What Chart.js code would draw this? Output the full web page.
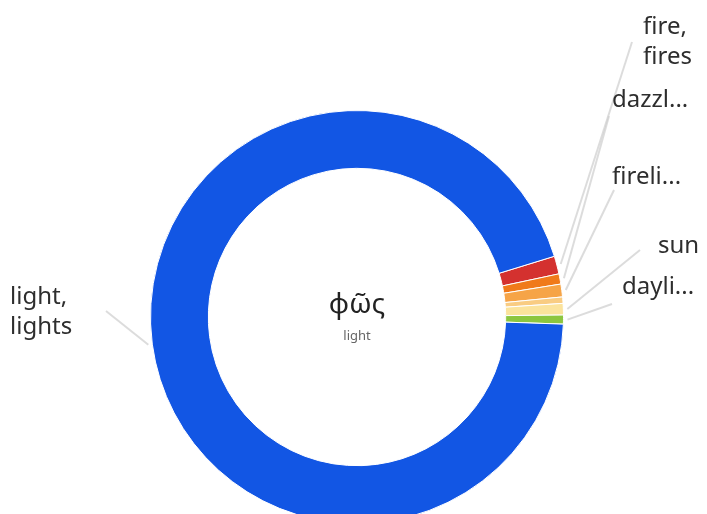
<!DOCTYPE html>
<html>
<head>
<meta charset="utf-8">
<script src="https://cdn.jsdelivr.net/npm/chart.js@4"></script>
<style>
  html, body { margin: 0; padding: 0; background: #fff; overflow: hidden; }
  #wrap { width: 707px; height: 524px; }
</style>
</head>
<body>
<div id="wrap"><canvas id="word_chart"></canvas></div>
<script>
// segments in clockwise order, starting at the red one
const words = ["fire, fires", "dazzl...", "fireli...", "", "sun", "dayli...", "light, lights"];
const counts = [14, 8, 10, 5, 9, 7, 947];
const colors = ["#d4312f", "#f07a1a", "#f6a447", "#f9cc82", "#fbe39c", "#8cc63f", "#1256e4"];

// where each word label sits (left x, first line centre y) and where its leader line ends
const label_pos = [
  { x: 643, y: 27, lx: 632, ly: 42 },
  { x: 612, y: 100, lx: 609, ly: 116 },
  { x: 612, y: 177, lx: 614, ly: 190 },
  null,
  { x: 658, y: 246, lx: 640, ly: 250 },
  { x: 622, y: 287, lx: 612, ly: 304 },
  { x: 10, y: 297, lx: 106, ly: 311 },
];

const title = "φῶς";
const subtitle = "light";

const labelsPlugin = {
  id: "word_labels",
  afterDraw(chart) {
    const ctx = chart.ctx;
    const meta = chart.getDatasetMeta(0);
    ctx.save();
    meta.data.forEach((arc, i) => {
      const pos = label_pos[i];
      if (!pos || !words[i]) return;
      const p = arc.getProps(["x", "y", "startAngle", "endAngle", "outerRadius"], true);
      const mid = (p.startAngle + p.endAngle) / 2;
      const r = p.outerRadius + 4;
      ctx.strokeStyle = "rgba(205,205,205,0.7)";
      ctx.lineWidth = 2;
      ctx.beginPath();
      ctx.moveTo(p.x + Math.cos(mid) * r, p.y + Math.sin(mid) * r);
      ctx.lineTo(pos.lx, pos.ly);
      ctx.stroke();

      ctx.fillStyle = "#2e2e2e";
      ctx.font = "24px 'Noto Sans'";
      ctx.textAlign = "left";
      ctx.textBaseline = "middle";
      const lines = words[i].includes(", ") ? words[i].replace(", ", ",\n").split("\n") : [words[i]];
      lines.forEach((t, k) => ctx.fillText(t, pos.x, pos.y + k * 30));
    });

    const c = meta.data[0];
    ctx.textAlign = "center";
    ctx.textBaseline = "middle";
    ctx.fillStyle = "#222";
    ctx.font = "28px 'Noto Sans'";
    ctx.fillText(title, c.x, c.y - 12);
    ctx.fillStyle = "#666";
    ctx.font = "13px 'Noto Sans'";
    ctx.fillText(subtitle, c.x, c.y + 19);
    ctx.restore();
  }
};

new Chart(document.getElementById("word_chart"), {
  type: "doughnut",
  data: {
    labels: words,
    datasets: [{
      data: counts,
      backgroundColor: colors,
      borderColor: "#fff",
      borderWidth: 1,
    }],
  },
  options: {
    responsive: true,
    maintainAspectRatio: false,
    animation: false,
    rotation: 72.9,
    cutout: "72%",
    layout: { padding: { top: 110, bottom: 0, left: 150, right: 143 } },
    plugins: {
      legend: { display: false },
      tooltip: { enabled: false },
    },
  },
  plugins: [labelsPlugin],
});
</script>
</body>
</html>
